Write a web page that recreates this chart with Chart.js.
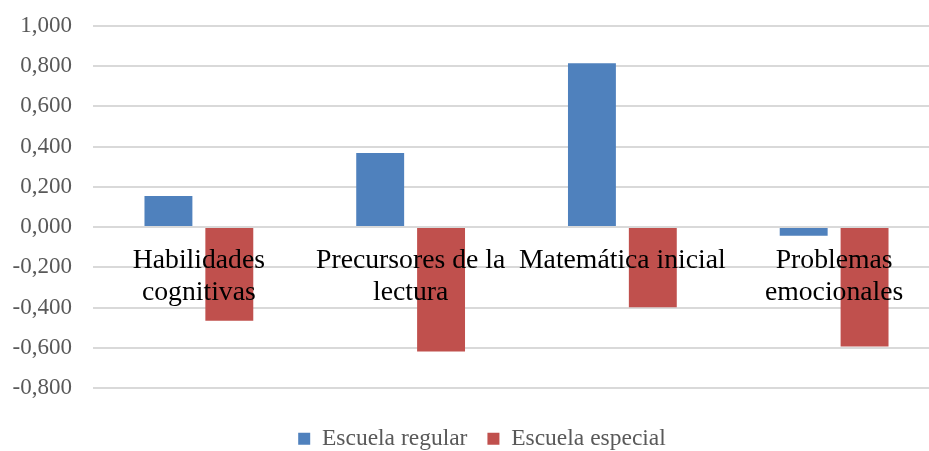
<!DOCTYPE html>
<html>
<head>
<meta charset="utf-8">
<script src="https://cdn.jsdelivr.net/npm/chart.js@4"></script>
<style>
	html, body { margin: 0; padding: 0; background: #fff; overflow: hidden; }
	#wrap { width: 968px; height: 470px; }
</style>
</head>
<body>
<div id="wrap"><canvas id="chart"></canvas></div>
<script>
const categories = [
	['Habilidades', 'cognitivas'],
	['Precursores de la', 'lectura'],
	['Matemática inicial'],
	['Problemas', 'emocionales']
];
const escuelaRegular = [0.155, 0.369, 0.815, -0.043];
const escuelaEspecial = [-0.465, -0.619, -0.398, -0.594];
const yMin = -0.8;
const yMax = 1.0;
const yStep = 0.2;

const serif = '"Liberation Serif", "Times New Roman", serif';

// category names sit just under the zero line, like the original
const zeroLineLabels = {
	id: 'zeroLineLabels',
	afterDatasetsDraw(chart) {
		const ctx = chart.ctx;
		const x = chart.scales.x;
		const y0 = chart.scales.y.getPixelForValue(0);
		ctx.save();
		ctx.font = '27.7px ' + serif;
		ctx.fillStyle = '#000';
		ctx.textAlign = 'center';
		ctx.textBaseline = 'alphabetic';
		categories.forEach((lines, i) => {
			const cx = x.getPixelForValue(i);
			lines.forEach((line, j) => {
				ctx.fillText(line, cx, y0 + 41 + j * 31.5);
			});
		});
		ctx.restore();
	}
};

// the original legend sits a bit right of the canvas centre
const legendShift = {
	id: 'legendShift',
	afterLayout(chart) {
		if (!chart.legend) return;
		chart.legend.left += 12;
		chart.legend.right += 12;
	}
};

const fmt = v => {
	if (Math.abs(v) < 1e-9) v = 0;
	return v.toFixed(3).replace('.', ',');
};

new Chart(document.getElementById('chart'), {
	type: 'bar',
	data: {
		labels: categories.map(l => l.join(' ')),
		datasets: [{
			label: 'Escuela regular',
			data: escuelaRegular,
			backgroundColor: '#4f81bd',
			borderWidth: 0
		}, {
			label: 'Escuela especial',
			data: escuelaEspecial,
			backgroundColor: '#c0504d',
			borderWidth: 0
		}]
	},
	options: {
		responsive: true,
		maintainAspectRatio: false,
		animation: false,
		categoryPercentage: 0.575,
		barPercentage: 0.787,
		layout: {
			padding: { top: 26, left: 0, right: 28, bottom: 9.5 }
		},
		plugins: {
			tooltip: { enabled: false },
			legend: {
				position: 'bottom',
				labels: {
					boxWidth: 12,
					boxHeight: 12,
					padding: 20,
					color: '#595959',
					font: { family: serif, size: 23.5 }
				}
			}
		},
		scales: {
			x: {
				ticks: { display: false },
				grid: { display: false },
				border: { display: false },
				afterFit: s => { s.height = 19; }
			},
			y: {
				min: yMin,
				max: yMax,
				afterFit: s => {
					s.width = 93;
					s.paddingTop = 12;
					s.paddingBottom = 12;
				},
				ticks: {
					stepSize: yStep,
					padding: 21,
					color: '#595959',
					font: { family: serif, size: 23 },
					callback: v => fmt(v)
				},
				grid: { color: '#d9d9d9', lineWidth: 2, drawTicks: false },
				border: { display: false }
			}
		}
	},
	plugins: [zeroLineLabels, legendShift]
});
</script>
</body>
</html>
